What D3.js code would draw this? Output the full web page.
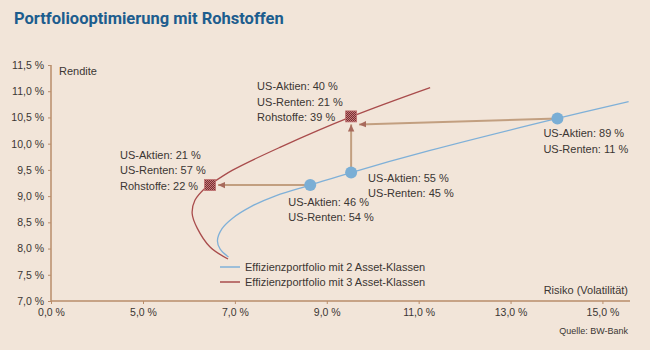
<!DOCTYPE html>
<html>
<head>
<meta charset="utf-8">
<script src="https://cdn.jsdelivr.net/npm/d3@7"></script>
<style>
  body { margin: 0; background: #f2e5d9; }
  text { font-family: "Liberation Sans", Arial, sans-serif; fill: #3b3633; }
</style>
</head>
<body>
<div id="chart"></div>
<script>
// Risk ticks (x) are not evenly spaced in value but evenly spaced on the chart
const riskTicks = [0, 5, 7, 9, 11, 13, 15];
const returnTicks = [7.0, 7.5, 8.0, 8.5, 9.0, 9.5, 10.0, 10.5, 11.0, 11.5];

// Efficient frontier, 2 asset classes [risk, return]
const frontier2 = [
    [6.86, 7.84], [6.68, 7.99], [6.62, 8.15], [6.72, 8.38], [6.95, 8.58],
    [7.35, 8.80], [7.90, 9.01], [8.64, 9.21], [9.53, 9.45], [11.25, 9.87],
    [14.02, 10.48], [15.57, 10.80]
];

// Efficient frontier, 3 asset classes [risk, return]
const frontier3 = [
    [6.85, 7.80], [6.46, 8.03], [6.18, 8.39], [6.07, 8.67], [6.13, 8.92],
    [6.35, 9.15], [6.46, 9.22], [6.94, 9.49], [7.98, 9.93], [9.55, 10.52],
    [11.25, 11.07]
];

// Portfolios on the 2-asset frontier
const points2 = [
    { id: 'a', risk: 8.64, ret: 9.21, lines: ['US-Aktien: 46 %', 'US-Renten: 54 %'] },
    { id: 'b', risk: 9.53, ret: 9.45, lines: ['US-Aktien: 55 %', 'US-Renten: 45 %'] },
    { id: 'c', risk: 14.02, ret: 10.48, lines: ['US-Aktien: 89 %', 'US-Renten: 11 %'] }
];

// Portfolios on the 3-asset frontier
const points3 = [
    { id: 'd', risk: 6.46, ret: 9.21, lines: ['US-Aktien: 21 %', 'US-Renten: 57 %', 'Rohstoffe: 22 %'] },
    { id: 'e', risk: 9.53, ret: 10.52, lines: ['US-Aktien: 40 %', 'US-Renten: 21 %', 'Rohstoffe: 39 %'] }
];

// arrows: from 2-asset portfolio to 3-asset portfolio
const arrows = [['a', 'd'], ['b', 'e'], ['c', 'e']];

const legendLabels = ['Effizienzportfolio mit 2 Asset-Klassen', 'Effizienzportfolio mit 3 Asset-Klassen'];

const width = 650, height = 350;
const blue = '#7fb0d8', red = '#a94c4c', axisCol = '#b98d6a', arrowCol = '#c29f80';

const x = d3.scaleLinear().domain([0, 5, 15.6]).range([51, 143, 630]);
const y = d3.scaleLinear().domain([7, 11.5]).range([301, 65]);

const svg = d3.select('#chart')
    .append('svg')
    .attr('width', width)
    .attr('height', height);

svg.append('rect').attr('width', width).attr('height', height).attr('fill', '#f2e5d9');

const defs = svg.append('defs');
// checkered fill for the square markers
let pat = defs.append('pattern')
    .attr('id', 'chk')
    .attr('width', 2).attr('height', 2)
    .attr('patternUnits', 'userSpaceOnUse');
pat.append('rect').attr('width', 2).attr('height', 2).attr('fill', '#7a2e32');
pat.append('rect').attr('width', 1).attr('height', 1).attr('fill', '#c27a7a');
pat.append('rect').attr('x', 1).attr('y', 1).attr('width', 1).attr('height', 1).attr('fill', '#c27a7a');

defs.append('marker')
    .attr('id', 'head')
    .attr('viewBox', '0 0 10 10')
    .attr('refX', 9).attr('refY', 5)
    .attr('markerWidth', 4).attr('markerHeight', 4)
    .attr('orient', 'auto')
    .append('path')
    .attr('d', 'M0,1 L9,5 L0,9 Z')
    .attr('fill', '#a86a5c');

// Title
svg.append('text')
    .attr('x', 14).attr('y', 24)
    .style('font-family', 'Roboto, sans-serif')
    .style('font-weight', 'bold')
    .style('font-size', '16.5px')
    .style('fill', '#1d5d8e')
    .text('Portfoliooptimierung mit Rohstoffen');

// Axes
const yAxis = d3.axisLeft(y)
    .tickValues(returnTicks)
    .tickSize(3)
    .tickPadding(4)
    .tickFormat(d => d3.format('.1f')(d).replace('.', ',') + ' %');

const xAxis = d3.axisBottom(x)
    .tickValues(riskTicks)
    .tickSize(3)
    .tickPadding(5)
    .tickFormat(d => d3.format('.1f')(d).replace('.', ',') + ' %');

const gy = svg.append('g').attr('transform', 'translate(51,0)').call(yAxis);
const gx = svg.append('g').attr('transform', 'translate(0,301)').call(xAxis);

[gx, gy].forEach(g => {
    g.select('.domain').attr('stroke', axisCol).attr('stroke-width', 1.5);
    g.selectAll('.tick line').attr('stroke', axisCol);
    g.selectAll('.tick text').style('font-size', '10.5px').style('fill', '#3b3633');
});
gy.select('.domain').attr('d', `M0,${y(11.5)}V${y(7)}`);
gx.select('.domain').attr('d', `M51,0H630`);

svg.append('text').attr('x', 59).attr('y', 75).style('font-size', '11px').text('Rendite');
svg.append('text').attr('x', 628).attr('y', 294).attr('text-anchor', 'end').style('font-size', '11px').text('Risiko (Volatilität)');
svg.append('text').attr('x', 628).attr('y', 334).attr('text-anchor', 'end').style('font-size', '9px').text('Quelle: BW-Bank');

// Frontier curves
const line = d3.line()
    .x(d => x(d[0]))
    .y(d => y(d[1]))
    .curve(d3.curveCatmullRom);

svg.append('path').datum(frontier2)
    .attr('d', line).attr('fill', 'none').attr('stroke', blue).attr('stroke-width', 1.3);
svg.append('path').datum(frontier3)
    .attr('d', line).attr('fill', 'none').attr('stroke', red).attr('stroke-width', 1.3);

// Arrows
const all = {};
points2.concat(points3).forEach(p => all[p.id] = p);

svg.append('g')
    .selectAll('line')
    .data(arrows)
    .join('line')
    .attr('x1', d => x(all[d[0]].risk))
    .attr('y1', d => y(all[d[0]].ret))
    .attr('x2', d => {
        let a = all[d[0]], b = all[d[1]];
        let dx = x(b.risk) - x(a.risk);
        return x(b.risk) - Math.sign(dx) * 8;
    })
    .attr('y2', d => {
        let a = all[d[0]], b = all[d[1]];
        let dy = y(b.ret) - y(a.ret);
        return y(b.ret) - Math.sign(dy) * 8;
    })
    .attr('stroke', arrowCol)
    .attr('stroke-width', 2)
    .attr('marker-end', 'url(#head)');

// Markers
svg.append('g')
    .selectAll('circle')
    .data(points2)
    .join('circle')
    .attr('cx', d => x(d.risk))
    .attr('cy', d => y(d.ret))
    .attr('r', 6)
    .attr('fill', '#7aaed5');

svg.append('g')
    .selectAll('rect')
    .data(points3)
    .join('rect')
    .attr('x', d => x(d.risk) - 5.5)
    .attr('y', d => y(d.ret) - 5.5)
    .attr('width', 11).attr('height', 11)
    .attr('fill', 'url(#chk)')
    .attr('stroke', '#c07070')
    .attr('stroke-width', 0.8);

// Labels, offset from their point
const labelOffset = { a: [-22, 17], b: [17, 5], c: [-14, 15], d: [-90, -30], e: [-94, -30] };

svg.append('g')
    .selectAll('text')
    .data(points2.concat(points3))
    .join('text')
    .attr('x', d => x(d.risk) + labelOffset[d.id][0])
    .attr('y', d => y(d.ret) + labelOffset[d.id][1] + 4)
    .style('font-size', '11px')
    .selectAll('tspan')
    .data(d => d.lines.map(t => ({ t, x: x(d.risk) + labelOffset[d.id][0] })))
    .join('tspan')
    .attr('x', d => d.x)
    .attr('dy', (d, i) => i === 0 ? 0 : 15.3)
    .text(d => d.t);

// Legend
const leg = svg.append('g').attr('transform', 'translate(220,267)');
leg.selectAll('line')
    .data(legendLabels)
    .join('line')
    .attr('x1', 0).attr('x2', 20)
    .attr('y1', (d, i) => i * 15).attr('y2', (d, i) => i * 15)
    .attr('stroke', (d, i) => i === 0 ? blue : red)
    .attr('stroke-width', 1.5);
leg.selectAll('text')
    .data(legendLabels)
    .join('text')
    .attr('x', 25)
    .attr('y', (d, i) => i * 15 + 4)
    .style('font-size', '11px')
    .text(d => d);
</script>
</body>
</html>
